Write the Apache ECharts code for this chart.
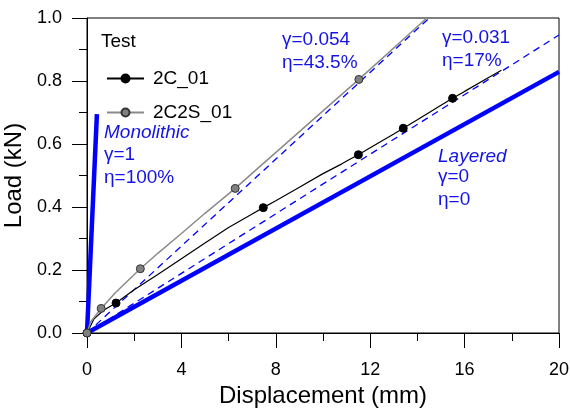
<!DOCTYPE html>
<html>
<head>
<meta charset="utf-8">
<title>Load - Displacement</title>
<script src="https://cdn.jsdelivr.net/npm/echarts@6/dist/echarts.min.js"></script>
<style>
    html, body { margin: 0; padding: 0; background: #fff; }
    .chart { width: 570px; height: 413px; }
</style>
</head>
<body>
<div class="chart"></div>
<script>
// 读图得到的数据 (位移 mm, 荷载 kN)
var xRange = [0, 20];
var yRange = [0, 1];
var xStep = 4;
var yStep = 0.2;

// 理论直线
var monolithic = [[0, 0], [0.42, 0.695]];
var layered = [[0, 0], [20, 0.829]];
var fit054 = [[0, 0], [14.5, 1.0]];
var fit031 = [[0, 0], [20, 0.946]];

// 试验曲线 2C_01
var c01Curve = [[0.3, 0.045], [0.7, 0.072], [2, 0.137], [3, 0.186], [4, 0.236], [5, 0.286],
    [6, 0.335], [7, 0.378], [8, 0.42], [9, 0.463], [10, 0.506], [10.8, 0.537], [11.1, 0.55],
    [12, 0.588], [13, 0.632], [14, 0.677], [15, 0.723], [16, 0.767], [17, 0.81], [17.56, 0.834]];
var c01Marks = [[0, 0], [1.23, 0.095], [7.47, 0.398], [11.5, 0.566], [13.4, 0.65], [15.49, 0.745]];

// 试验曲线 2C2S_01
var c2sCurve = [[0.15, 0.035], [1.2, 0.128], [3, 0.253], [4, 0.316], [5, 0.38], [7.33, 0.529],
    [8.5, 0.606], [10, 0.705], [12.5, 0.871], [13.5, 0.939], [14.4, 1.0]];
var c2sMarks = [[0, 0], [0.6, 0.078], [2.26, 0.204], [6.28, 0.459], [11.52, 0.805]];

(function () {
    var myChart = echarts.init(document.querySelector(".chart"));
    var font = '"Liberation Sans", Arial, sans-serif';
    var blue = '#0000ff';
    var textBlue = '#1414e6';

    // 合并曲线点和带标记的点, 只有标记点显示圆点
    function merge(curve, marks) {
        var all = [];
        curve.forEach(function (p) { all.push({ value: p, symbol: 'none' }); });
        marks.forEach(function (p) { all.push({ value: p }); });
        all.sort(function (a, b) { return a.value[0] - b.value[0]; });
        return all;
    }

    function straight(data, width, dashed) {
        return {
            type: 'line',
            data: data,
            symbol: 'none',
            silent: true,
            lineStyle: {
                color: blue,
                width: width,
                type: dashed ? [7, 5] : 'solid'
            }
        };
    }

    function note(x, y, text, italic, color) {
        return {
            type: 'text',
            x: x,
            y: y,
            style: {
                text: text,
                fill: color || textBlue,
                font: (italic ? 'italic ' : '') + '19px ' + font,
                verticalAlign: 'middle'
            }
        };
    }

    var axisCommon = {
        axisLine: { show: true, onZero: false, lineStyle: { color: '#000', width: 1 } },
        axisTick: { show: true, length: 15, lineStyle: { color: '#000' } },
        minorTick: { show: true, splitNumber: 2, length: 8, lineStyle: { color: '#000' } },
        splitLine: { show: false }
    };

    var option = {
        animation: false,
        grid: {
            left: 87,
            right: 11,
            top: 18,
            bottom: 80,
            containLabel: false,
            outerBoundsMode: 'none',
            show: true,
            borderColor: '#000',
            borderWidth: 1
        },
        legend: {
            data: ['2C_01', '2C2S_01'],
            orient: 'vertical',
            left: 101,
            top: 64,
            itemWidth: 37,
            itemHeight: 10,
            itemGap: 15,
            textStyle: {
                fontFamily: font,
                fontSize: 19,
                color: '#000',
                padding: [0, 0, 0, 4]
            }
        },
        xAxis: Object.assign({
            type: 'value',
            min: xRange[0],
            max: xRange[1],
            interval: xStep,
            name: 'Displacement (mm)',
            nameLocation: 'middle',
            nameGap: 50,
            nameTextStyle: { fontFamily: font, fontSize: 24, color: '#000' },
            axisLabel: { margin: 28, fontFamily: font, fontSize: 18, color: '#000' }
        }, axisCommon),
        yAxis: Object.assign({
            type: 'value',
            min: yRange[0],
            max: yRange[1],
            interval: yStep,
            name: 'Load (kN)',
            nameLocation: 'middle',
            nameGap: 56,
            nameTextStyle: { fontFamily: font, fontSize: 24, color: '#000' },
            axisLabel: {
                margin: 25, fontFamily: font, fontSize: 18, color: '#000',
                formatter: function (v) { return v.toFixed(1); }
            }
        }, axisCommon),
        series: [
            straight(layered, 4.5, false),
            straight(monolithic, 4.5, false),
            straight(fit031, 1.3, true),
            straight(fit054, 1.3, true),
            {
                name: '2C_01',
                type: 'line',
                data: merge(c01Curve, c01Marks),
                symbol: 'circle',
                symbolSize: 8,
                showAllSymbol: true,
                lineStyle: { color: '#000', width: 1.2 },
                itemStyle: { color: '#000', borderColor: '#000', borderWidth: 1 }
            },
            {
                name: '2C2S_01',
                type: 'line',
                data: merge(c2sCurve, c2sMarks),
                symbol: 'circle',
                symbolSize: 8,
                showAllSymbol: true,
                lineStyle: { color: '#8a8a8a', width: 1.5 },
                itemStyle: { color: '#808080', borderColor: '#333', borderWidth: 1 }
            }
        ],
        // 图中文字说明
        graphic: [
            note(101, 42, 'Test', false, '#000'),
            note(104, 133, 'Monolithic', true),
            note(104, 155, 'γ=1'),
            note(104, 178, 'η=100%'),
            note(282, 40, 'γ=0.054'),
            note(282, 63, 'η=43.5%'),
            note(442, 38, 'γ=0.031'),
            note(442, 61, 'η=17%'),
            note(438, 157, 'Layered', true),
            note(438, 177, 'γ=0'),
            note(438, 200, 'η=0')
        ]
    };
    myChart.setOption(option);
    window.addEventListener("resize", function () {
        myChart.resize();
    })
})();
</script>
</body>
</html>
